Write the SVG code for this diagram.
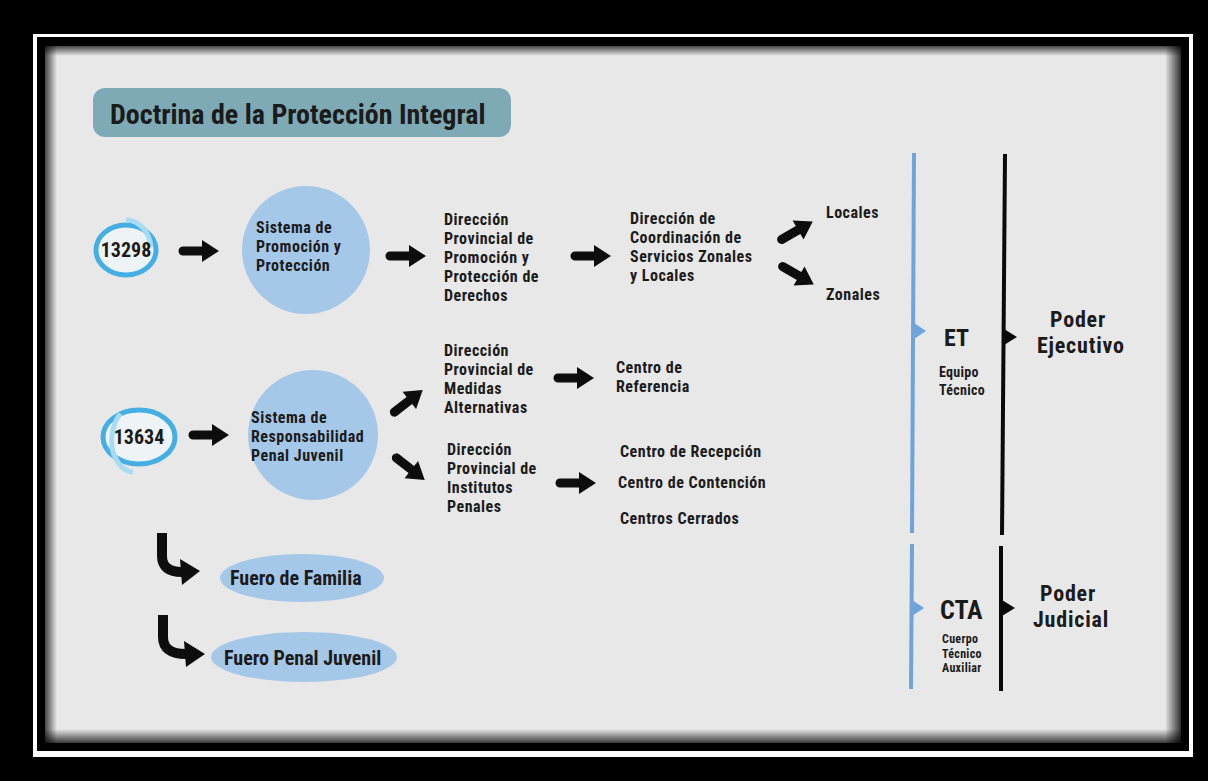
<svg xmlns="http://www.w3.org/2000/svg" width="1208" height="781" viewBox="0 0 1208 781">
<defs>
<style>
.t{font-family:"Roboto Condensed","Liberation Sans Narrow","Liberation Sans",sans-serif;font-weight:bold;fill:#1b1b1b;}
.m{font-size:16px;letter-spacing:0.5px;}
.f{font-size:20px;}
.big{font-size:22px;letter-spacing:0.8px;}
.sm{font-size:14px;letter-spacing:0.3px;}
.circ{fill:#a6c8e8;}
.ell{fill:#a6c8e8;}
.bl{stroke:#6ea4dc;stroke-width:4;fill:none;}
.bk{stroke:#0a0a0a;stroke-width:4;fill:none;}
</style>
<path id="arr" d="M3,-4.5 H22 V-11 L39,0 L22,11 V4.5 H3 A4.5,4.5 0 0 1 3,-4.5 Z" fill="#0d0d0d"/>
<path id="tb" d="M0,-8 L12,0 L0,8 Z" fill="#6ea4dc"/>
<path id="tk" d="M0,-8 L13,0 L0,8 Z" fill="#0a0a0a"/>
<linearGradient id="gl" x1="0" y1="0" x2="1" y2="0"><stop offset="0" stop-color="#000" stop-opacity="0.7"/><stop offset="1" stop-color="#000" stop-opacity="0"/></linearGradient>
<linearGradient id="gr" x1="1" y1="0" x2="0" y2="0"><stop offset="0" stop-color="#000" stop-opacity="0.8"/><stop offset="1" stop-color="#000" stop-opacity="0"/></linearGradient>
<linearGradient id="gt" x1="0" y1="0" x2="0" y2="1"><stop offset="0" stop-color="#000" stop-opacity="0.7"/><stop offset="1" stop-color="#000" stop-opacity="0"/></linearGradient>
<linearGradient id="gb" x1="0" y1="1" x2="0" y2="0"><stop offset="0" stop-color="#000" stop-opacity="0.75"/><stop offset="1" stop-color="#000" stop-opacity="0"/></linearGradient>
</defs>

<g id="frame">
<rect x="0" y="0" width="1208" height="781" fill="#000"/>
<rect x="33" y="34" width="1160" height="723" fill="#fff"/>
<rect x="37" y="37" width="1152" height="714" fill="#000"/>
<rect x="45" y="46" width="1136" height="697" fill="#e8e8e8"/>
<rect x="45" y="46" width="12" height="697" fill="url(#gl)"/>
<rect x="1165" y="46" width="16" height="697" fill="url(#gr)"/>
<rect x="45" y="46" width="1136" height="10" fill="url(#gt)"/>
<rect x="45" y="729" width="1136" height="14" fill="url(#gb)"/>
</g>

<g id="title">
<rect x="93" y="88" width="418" height="49" rx="12" fill="#7eaab5"/>
<text class="t" x="110" y="124" font-size="28">Doctrina de la Protección Integral</text>
</g>

<g id="n13298">
<ellipse cx="126" cy="250" rx="30" ry="25" fill="#eef3f6" stroke="#45afe3" stroke-width="5"/>
<ellipse cx="126" cy="250" rx="30" ry="25" fill="none" stroke="#a9dcf3" stroke-width="5" stroke-dasharray="40 200" transform="rotate(-90 126 250)"/>
<text class="t" x="126" y="257" font-size="20" text-anchor="middle">13298</text>
</g>

<g id="sppd">
<circle class="circ" cx="306" cy="250" r="64"/>
<text class="t m"><tspan x="256" y="233">Sistema de</tspan><tspan x="256" y="252">Promoción y</tspan><tspan x="256" y="271">Protección</tspan></text>
</g>

<g id="dpppd">
<text class="t m"><tspan x="444" y="225">Dirección</tspan><tspan x="444" y="244">Provincial de</tspan><tspan x="444" y="263">Promoción y</tspan><tspan x="444" y="282">Protección de</tspan><tspan x="444" y="301">Derechos</tspan></text>
</g>

<g id="dcszl">
<text class="t m"><tspan x="630" y="224">Dirección de</tspan><tspan x="630" y="243">Coordinación de</tspan><tspan x="630" y="262">Servicios Zonales</tspan><tspan x="630" y="281">y Locales</tspan></text>
</g>

<g id="locales"><text class="t m" x="826" y="218">Locales</text></g>
<g id="zonales"><text class="t m" x="826" y="300">Zonales</text></g>

<g id="n13634">
<ellipse cx="139" cy="437" rx="36" ry="27" fill="#eef3f6" stroke="#45afe3" stroke-width="5"/>
<ellipse cx="139" cy="437" rx="36" ry="27" fill="none" stroke="#a9dcf3" stroke-width="5" stroke-dasharray="70 200" transform="rotate(100 139 437)"/>
<text class="t" x="139" y="444" font-size="20" text-anchor="middle">13634</text>
</g>

<g id="srpj">
<circle class="circ" cx="313" cy="435" r="65"/>
<text class="t m"><tspan x="251" y="423">Sistema de</tspan><tspan x="251" y="442">Responsabilidad</tspan><tspan x="251" y="461">Penal Juvenil</tspan></text>
</g>

<g id="dpma">
<text class="t m"><tspan x="444" y="356">Dirección</tspan><tspan x="444" y="375">Provincial de</tspan><tspan x="444" y="394">Medidas</tspan><tspan x="444" y="413">Alternativas</tspan></text>
</g>

<g id="cref">
<text class="t m"><tspan x="616" y="373">Centro de</tspan><tspan x="616" y="392">Referencia</tspan></text>
</g>

<g id="dpip">
<text class="t m"><tspan x="447" y="455">Dirección</tspan><tspan x="447" y="474">Provincial de</tspan><tspan x="447" y="493">Institutos</tspan><tspan x="447" y="512">Penales</tspan></text>
</g>

<g id="centros">
<text class="t m" x="620" y="457">Centro de Recepción</text>
<text class="t m" x="618" y="488">Centro de Contención</text>
<text class="t m" x="620" y="524">Centros Cerrados</text>
</g>

<g id="ffam">
<ellipse class="ell" cx="302" cy="578" rx="82" ry="24"/>
<text class="t f" x="230" y="585">Fuero de Familia</text>
</g>

<g id="fpj">
<ellipse class="ell" cx="304" cy="657" rx="93" ry="25"/>
<text class="t f" x="224" y="665">Fuero Penal Juvenil</text>
</g>

<g id="et">
<text class="t" x="944" y="346" font-size="24">ET</text>
<text class="t sm"><tspan x="939" y="377">Equipo</tspan><tspan x="939" y="395">Técnico</tspan></text>
</g>

<g id="pe">
<text class="t big"><tspan x="1050" y="327">Poder</tspan><tspan x="1037" y="353">Ejecutivo</tspan></text>
</g>

<g id="cta">
<text class="t" x="940" y="619" font-size="26">CTA</text>
<text class="t" font-size="12" letter-spacing="0.3"><tspan x="942" y="643">Cuerpo</tspan><tspan x="942" y="657.5">Técnico</tspan><tspan x="942" y="672">Auxiliar</tspan></text>
</g>

<g id="pj">
<text class="t big"><tspan x="1040" y="601">Poder</tspan><tspan x="1033" y="627">Judicial</tspan></text>
</g>

<g id="connectors">
<use href="#arr" transform="translate(180,251)"/>
<use href="#arr" transform="translate(387,256)"/>
<use href="#arr" transform="translate(572,256)"/>
<use href="#arr" transform="translate(779,241) rotate(-30)"/>
<use href="#arr" transform="translate(780,265) rotate(30)"/>
<use href="#arr" transform="translate(190,435)"/>
<use href="#arr" transform="translate(392,414) rotate(-38)"/>
<use href="#arr" transform="translate(394,456) rotate(38)"/>
<use href="#arr" transform="translate(555,378)"/>
<use href="#arr" transform="translate(557,483)"/>
<path d="M162,533 V556 Q162,572 182,572" fill="none" stroke="#0d0d0d" stroke-width="10"/>
<path d="M180,559 L200,571 L182,585 Z" fill="#0d0d0d"/>
<path d="M163,615 V637 Q163,654 186,654" fill="none" stroke="#0d0d0d" stroke-width="10"/>
<path d="M184,641 L205,654 L186,667 Z" fill="#0d0d0d"/>
<line class="bl" x1="914" y1="153" x2="912" y2="533"/>
<use href="#tb" transform="translate(914,331)"/>
<line class="bk" x1="1005" y1="154" x2="1002" y2="535"/>
<use href="#tk" transform="translate(1004,337)"/>
<line class="bl" x1="912" y1="544" x2="911" y2="689"/>
<use href="#tb" transform="translate(912,608)"/>
<line class="bk" x1="1001" y1="546" x2="1001" y2="691"/>
<use href="#tk" transform="translate(1002,608)"/>
</g>
</svg>
